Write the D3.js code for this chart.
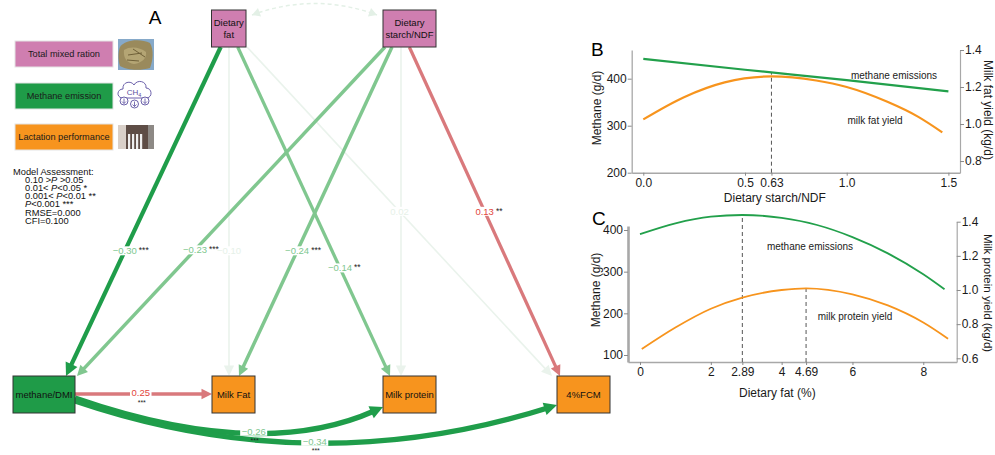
<!DOCTYPE html>
<html>
<head>
<meta charset="utf-8">
<script src="https://cdn.jsdelivr.net/npm/d3@7"></script>
<style>
  body { margin: 0; background: #fff; }
  svg { display: block; font-family: "Liberation Sans", Arial, sans-serif; }
</style>
</head>
<body>
<svg id="chart" width="995" height="455"></svg>
<script>
// ---------- panel A : path model ----------
var nodeIds    = ["fat", "ndf", "ch4", "mfat", "mprot", "fcm"];
var nodeLabels = [["Dietary", "fat"], ["Dietary", "starch/NDF"], ["methane/DMI"], ["Milk Fat"], ["Milk protein"], ["4%FCM"]];
var nodeGroups = ["ration", "ration", "methane", "lactation", "lactation", "lactation"];

var pathFrom  = ["fat", "fat", "fat", "fat", "ndf", "ndf", "ndf", "ndf", "ch4", "ch4", "ch4"];
var pathTo    = ["ch4", "mfat", "mprot", "fcm", "ch4", "mfat", "mprot", "fcm", "mfat", "mprot", "fcm"];
var pathCoef  = [-0.30, -0.10, -0.14, 0.02, -0.23, -0.24, null, 0.13, 0.25, -0.26, -0.34];
var pathStars = ["***", "", "**", "", "***", "***", "", "**", "***", "***", "***"];

var legendLabels = ["Total mixed ration", "Methane emission", "Lactation performance"];
var legendGroups = ["ration", "methane", "lactation"];

var assessLines = ["Model Assessment:", "0.10 >P >0.05", "0.01< P<0.05 *", "0.001< P<0.01 **", "P<0.001 ***", "RMSE=0.000", "CFI=0.100"];

// ---------- panel B : starch/NDF ----------
var starchLevels    = [0, 0.5, 1.0, 1.5];
var starchMethane   = [442, 419, 397, 373];
var starchFatLevels = [0, 0.2, 0.4, 0.63, 0.85, 1.0, 1.2, 1.35, 1.47];
var starchFatYield  = [1.025, 1.145, 1.225, 1.257, 1.235, 1.2, 1.12, 1.04, 0.955];
var starchOptimum   = 0.63;
var starchTicks     = [0, 0.5, 0.63, 1.0, 1.5];
var starchTickText  = ["0.0", "0.5", "0.63", "1.0", "1.5"];

// ---------- panel C : dietary fat ----------
var fatLevels      = [0, 1, 2, 2.89, 4, 5, 6, 7, 8, 8.6];
var fatMethane     = [390, 416, 432, 436, 429, 412, 383, 344, 294, 258];
var fatProtLevels  = [0.05, 1, 2, 2.89, 4, 4.69, 6, 7, 8, 8.7];
var fatProtYield   = [0.654, 0.78, 0.89, 0.955, 1.0, 1.01, 0.975, 0.91, 0.81, 0.715];
var fatOptMethane  = 2.89;
var fatOptProtein  = 4.69;
var fatTicks       = [0, 2, 2.89, 4, 4.69, 6, 8];
var fatTickText    = ["0", "2", "2.89", "4", "4.69", "6", "8"];

var FONT = "'Liberation Sans', Arial, sans-serif";
var groupFill = { ration: "#cf7eb0", methane: "#1f9b48", lactation: "#f7941e" };
var GREEN = "#22a04b", ORANGE = "#f7941d";

var svg = d3.select("#chart");

// node boxes [x, y, w, h]
var nodeBox = {
  fat:   [211.5, 10, 34.5, 37],
  ndf:   [383, 10, 53, 37],
  ch4:   [13, 376, 62, 37],
  mfat:  [212, 376, 43, 37],
  mprot: [383, 376, 53, 37],
  fcm:   [557, 376, 53, 37]
};
// where each path leaves / enters its boxes, and where its label sits (fraction)
var edgeLayout = [
  { sx: 220.7, tx: 66,  t: 0.62 },
  { sx: 229,   tx: 229, t: 0.62 },
  { sx: 237.7, tx: 390, t: 0.672 },
  { sx: 247,   tx: 552, t: 0.5 },
  { sx: 385,   tx: 77,  t: 0.617 },
  { sx: 392,   tx: 239, t: 0.62 },
  { sx: 401,   tx: 401, t: 0.5 },
  { sx: 409.3, tx: 560, t: 0.5 },
  { side: true, sy: 18, ty: 18, t: 0.48 },
  { curve: true, sy: 22, ty: 31, cx: 260, cy: 462, t: 0.53 },
  { curve: true, sy: 25, ty: 29, cx: 313.5, cy: 482, t: 0.5 }
];

function isFaint(i) { return pathCoef[i] === null || pathStars[i] === ""; }
function edgeColor(i) {
  var c = pathCoef[i];
  if (isFaint(i)) return "#eaf3ec";
  if (c > 0) return "#d9797c";
  return Math.abs(c) >= 0.26 ? "#1f9d4a" : "#80c78f";
}
function labelColor(i) {
  if (isFaint(i)) return "#e6f1e8";
  return pathCoef[i] > 0 ? "#e2453d" : "#80c78f";
}
function edgeWidth(i) {
  var c = Math.abs(pathCoef[i] || 0);
  if (isFaint(i)) return 1.6;
  if (edgeLayout[i].curve) return 5.3;
  if (c >= 0.26) return 4.2;
  return 3 + c * 2;
}

function arrowPts(tip, from, L, W) {
  var dx = tip[0] - from[0], dy = tip[1] - from[1];
  var len = Math.sqrt(dx * dx + dy * dy), ux = dx / len, uy = dy / len;
  var bx = tip[0] - ux * L, by = tip[1] - uy * L;
  return { poly: [tip, [bx - uy * W, by + ux * W], [bx + uy * W, by - ux * W]], base: [tip[0] - ux * L * 0.7, tip[1] - uy * L * 0.7] };
}

var gEdge = svg.append("g"), gLab = svg.append("g"), gNode = svg.append("g");

// faint dashed covariance arc between the two diet nodes
(function () {
  var p0 = [252, 15], p2 = [377, 15], c = [314.5, -8];
  var col = "#e3f0e6";
  gEdge.append("path")
    .attr("d", "M" + p0 + "Q" + c + " " + p2)
    .attr("fill", "none").attr("stroke", col).attr("stroke-width", 1.5).attr("stroke-dasharray", "4,3");
  [[p0, c], [p2, c]].forEach(function (pr) {
    var a = arrowPts(pr[0], pr[1], 8, 4.5);
    gEdge.append("polygon").attr("points", a.poly.join(" ")).attr("fill", col);
  });
})();

var order = d3.range(pathFrom.length).sort(function (a, b) { return isFaint(b) - isFaint(a); });
order.forEach(function (i) {
  var s = nodeBox[pathFrom[i]], e = nodeBox[pathTo[i]], lay = edgeLayout[i];
  var col = edgeColor(i), w = edgeWidth(i);
  var L = w >= 4 ? 13 : 10.5, W = w >= 4 ? 6.5 : 5.2;
  var p0, p2, ctrl, lp;
  if (lay.curve || lay.side) {
    p0 = [s[0] + s[2], s[1] + lay.sy];
    p2 = [e[0], e[1] + lay.ty];
  } else {
    p0 = [lay.sx, s[1] + s[3]];
    p2 = [lay.tx, e[1]];
  }
  if (lay.curve) {
    ctrl = [lay.cx, lay.cy];
    var a = arrowPts(p2, ctrl, L, W);
    gEdge.append("path").attr("d", "M" + p0 + "Q" + ctrl + " " + a.base)
      .attr("fill", "none").attr("stroke", col).attr("stroke-width", w);
    gEdge.append("polygon").attr("points", a.poly.join(" ")).attr("fill", col);
    var t = lay.t, u = 1 - t;
    lp = [u * u * p0[0] + 2 * u * t * ctrl[0] + t * t * p2[0], u * u * p0[1] + 2 * u * t * ctrl[1] + t * t * p2[1]];
  } else {
    var a2 = arrowPts(p2, p0, L, W);
    gEdge.append("line").attr("x1", p0[0]).attr("y1", p0[1]).attr("x2", a2.base[0]).attr("y2", a2.base[1])
      .attr("stroke", col).attr("stroke-width", w);
    gEdge.append("polygon").attr("points", a2.poly.join(" ")).attr("fill", col);
    lp = [p0[0] + (p2[0] - p0[0]) * lay.t, p0[1] + (p2[1] - p0[1]) * lay.t];
  }
  if (pathCoef[i] === null) return;
  var below = lay.curve || lay.side;
  var txt = gLab.append("text").attr("x", lp[0]).attr("y", lp[1] - (below ? 1 : 0)).attr("dy", "0.35em")
    .attr("text-anchor", "middle").attr("font-size", 9.5).attr("fill", labelColor(i))
    .text(d3.format(".2f")(pathCoef[i]));
  var bb = txt.node().getBBox();
  gLab.insert("rect", function () { return txt.node(); })
    .attr("x", bb.x - 1.5).attr("y", bb.y + 1).attr("width", bb.width + 3).attr("height", bb.height - 2)
    .attr("fill", "#fff");
  if (pathStars[i]) {
    if (below) {
      gLab.append("text").attr("x", lp[0] + 1).attr("y", lp[1] + 10.5)
        .attr("text-anchor", "middle").attr("font-size", 7).attr("fill", "#222").text(pathStars[i]);
    } else {
      gLab.append("text").attr("x", bb.x + bb.width + 2).attr("y", lp[1] + 2)
        .attr("font-size", 8.5).attr("fill", "#222").text(pathStars[i]);
    }
  }
});

nodeIds.forEach(function (id, i) {
  var b = nodeBox[id];
  gNode.append("rect").attr("x", b[0]).attr("y", b[1]).attr("width", b[2]).attr("height", b[3])
    .attr("fill", groupFill[nodeGroups[i]]).attr("stroke", "#333").attr("stroke-width", 1);
  var lines = nodeLabels[i], cy = b[1] + b[3] / 2;
  lines.forEach(function (ln, k) {
    gNode.append("text").attr("x", b[0] + b[2] / 2).attr("y", cy + (k - (lines.length - 1) / 2) * 12)
      .attr("dy", "0.35em").attr("text-anchor", "middle").attr("font-size", 9.5).attr("fill", "#111").text(ln);
  });
});

// panel letter
svg.append("text").attr("x", 155).attr("y", 24).attr("text-anchor", "middle").attr("font-size", 19).text("A");

// legend
var legTop = [41, 83, 124];
legendLabels.forEach(function (lab, i) {
  svg.append("rect").attr("x", 15).attr("y", legTop[i]).attr("width", 98).attr("height", 26)
    .attr("fill", groupFill[legendGroups[i]]).attr("stroke", "#e4e4e4");
  svg.append("text").attr("x", 64).attr("y", legTop[i] + 13).attr("dy", "0.35em")
    .attr("text-anchor", "middle").attr("font-size", 9.2).attr("fill", "#1a1a1a").text(lab);
});

// icons next to the legend
(function () {
  var g = svg.append("g");
  // feed photo
  g.append("rect").attr("x", 118).attr("y", 39).attr("width", 36).attr("height", 31).attr("fill", "#86a9c9");
  g.append("path").attr("d", "M120,47 C124,40 140,38 150,43 C154,50 153,60 150,68 C140,71 126,70 120,66 C118,60 118,52 120,47 Z")
    .attr("fill", "#9a8a5c");
  g.append("path").attr("d", "M124,50 C130,46 140,47 146,52 C147,58 142,63 134,64 C127,63 123,58 124,50 Z")
    .attr("fill", "#b4a574");
  g.append("path").attr("d", "M128,55 L142,53 M127,60 L139,61 M133,49 L145,57").attr("stroke", "#6f6038").attr("stroke-width", 1);
  // methane cloud
  var purple = "#5b4fa0";
  g.append("path").attr("d", "M122,98 C116,97 117,89 123,89 C122,82 131,80 134,85 C137,79 147,81 146,88 C152,88 153,97 147,98 Z")
    .attr("fill", "none").attr("stroke", purple).attr("stroke-width", 0.9);
  var ct = g.append("text").attr("x", 134).attr("y", 95).attr("text-anchor", "middle").attr("font-size", 8).attr("fill", purple);
  ct.append("tspan").text("CH");
  ct.append("tspan").attr("font-size", 5.5).attr("dy", 1.5).text("4");
  [[124, 101], [134.5, 104], [145, 101]].forEach(function (p) {
    g.append("circle").attr("cx", p[0]).attr("cy", p[1]).attr("r", 4).attr("fill", "#fff").attr("stroke", purple).attr("stroke-width", 0.9);
    g.append("path").attr("d", "M" + p[0] + "," + (p[1] - 2.5) + "V" + (p[1] + 2.5) + "M" + (p[0] - 2) + "," + (p[1] + 0.5) + "L" + p[0] + "," + (p[1] + 2.5) + "L" + (p[0] + 2) + "," + (p[1] + 0.5))
      .attr("fill", "none").attr("stroke", purple).attr("stroke-width", 0.8);
  });
  // milking photo
  g.append("rect").attr("x", 118).attr("y", 125).attr("width", 36).attr("height", 24).attr("fill", "#d9d0c9");
  g.append("rect").attr("x", 126).attr("y", 125).attr("width", 22).attr("height", 24).attr("fill", "#5e4d46");
  [128, 132, 136, 140].forEach(function (x) {
    g.append("rect").attr("x", x).attr("y", 134).attr("width", 2.2).attr("height", 15).attr("fill", "#efefef");
  });
  g.append("rect").attr("x", 148).attr("y", 125).attr("width", 6).attr("height", 24).attr("fill", "#8d8985");
})();

// model assessment text
var assess = svg.append("text").attr("font-size", 9.3).attr("fill", "#111");
assessLines.forEach(function (ln, i) {
  var t = assess.append("tspan").attr("x", i === 0 ? 13 : 25).attr("y", 175 + i * 8.1);
  var parts = (i >= 1 && i <= 4) ? ln.split("P") : [ln];
  parts.forEach(function (p, k) {
    if (k > 0) t.append("tspan").attr("font-style", "italic").text("P");
    t.append("tspan").text(p);
  });
});

// ---------- line panels ----------
function styleAxis(g, domWidth) {
  g.attr("font-family", FONT).attr("font-size", 12);
  g.select(".domain").attr("stroke", "#a8a8a8").attr("stroke-width", domWidth);
  g.selectAll(".tick line").attr("stroke", "#8a8a8a");
  g.selectAll(".tick text").attr("fill", "#1a1a1a");
}

function linePanel(cfg) {
  var g = svg.append("g");
  var x = d3.scaleLinear().domain(cfg.xDomain).range([cfg.left, cfg.right]);
  var yl = d3.scaleLinear().domain(cfg.lDomain).range([cfg.bottom, cfg.top]);
  var yr = d3.scaleLinear().domain(cfg.rDomain).range([cfg.bottom, cfg.rTop]);

  var ax = g.append("g").attr("transform", "translate(0," + cfg.bottom + ")")
    .call(d3.axisBottom(x).tickValues(cfg.xTicks).tickFormat(function (d, i) { return cfg.xTickText[i]; })
      .tickSize(3).tickSizeOuter(0).tickPadding(cfg.xPad));
  styleAxis(ax, 1.5);
  var al = g.append("g").attr("transform", "translate(" + cfg.left + ",0)")
    .call(d3.axisLeft(yl).tickValues(cfg.lTicks).tickSize(4).tickSizeOuter(0).tickPadding(1));
  styleAxis(al, cfg.leftWidth);
  var ar = g.append("g").attr("transform", "translate(" + cfg.right + ",0)")
    .call(d3.axisRight(yr).tickValues(cfg.rTicks).tickFormat(d3.format(".1f")).tickSize(4).tickSizeOuter(0).tickPadding(1));
  styleAxis(ar, 1.2);

  // optimum markers
  cfg.dashes.forEach(function (d) {
    g.append("line").attr("x1", x(d.x)).attr("x2", x(d.x)).attr("y1", cfg.bottom).attr("y2", d.y)
      .attr("stroke", "#555").attr("stroke-width", 1).attr("stroke-dasharray", "4,3");
  });

  var lineL = d3.line().curve(d3.curveMonotoneX).x(function (d) { return x(d[0]); }).y(function (d) { return yl(d[1]); });
  var lineR = d3.line().curve(d3.curveMonotoneX).x(function (d) { return x(d[0]); }).y(function (d) { return yr(d[1]); });
  g.append("path").attr("d", lineL(d3.zip(cfg.mX, cfg.mY))).attr("fill", "none").attr("stroke", GREEN).attr("stroke-width", cfg.lw);
  g.append("path").attr("d", lineR(d3.zip(cfg.yX, cfg.yY))).attr("fill", "none").attr("stroke", ORANGE).attr("stroke-width", cfg.lw);

  cfg.notes.forEach(function (n) {
    g.append("text").attr("x", n[0]).attr("y", n[1]).attr("text-anchor", "middle").attr("font-size", 10).attr("fill", "#1a1a1a").text(n[2]);
  });
  g.append("text").attr("x", cfg.letter[0]).attr("y", cfg.letter[1]).attr("font-size", 19).text(cfg.letter[2]);
  g.append("text").attr("x", (cfg.left + cfg.right) / 2 + cfg.xTitle[0]).attr("y", cfg.xTitle[1])
    .attr("text-anchor", "middle").attr("font-size", 12).attr("fill", "#1a1a1a").text(cfg.xTitle[2]);
  g.append("text").attr("transform", "translate(" + cfg.lTitle[0] + "," + cfg.lTitle[1] + ") rotate(-90)")
    .attr("text-anchor", "middle").attr("dy", "0.35em").attr("font-size", 12).attr("fill", "#1a1a1a").text(cfg.lTitle[2]);
  g.append("text").attr("transform", "translate(" + cfg.rTitle[0] + "," + cfg.rTitle[1] + ") rotate(90)")
    .attr("text-anchor", "middle").attr("dy", "0.35em").attr("font-size", cfg.rTitle[3]).attr("fill", "#1a1a1a").text(cfg.rTitle[2]);
  return { x: x, yl: yl, yr: yr };
}

var starchMethaneAt = d3.scaleLinear().domain(starchLevels).range(starchMethane);
var fatMethaneAt = d3.scaleLinear().domain(fatLevels).range(fatMethane);
var fatProtAt = d3.scaleLinear().domain(fatProtLevels).range(fatProtYield);

var bY = d3.scaleLinear().domain([200, 461]).range([172.7, 50]);
linePanel({
  left: 631.7, right: 960, top: 50, rTop: 50, bottom: 172.7,
  xDomain: [-0.057, 1.557], lDomain: [200, 461], rDomain: [0.737, 1.4],
  xTicks: starchTicks, xTickText: starchTickText, xPad: 3,
  lTicks: [200, 300, 400], rTicks: [0.8, 1.0, 1.2, 1.4], leftWidth: 1.3,
  mX: starchLevels, mY: starchMethane, yX: starchFatLevels, yY: starchFatYield, lw: 2.2,
  dashes: [{ x: starchOptimum, y: bY(starchMethaneAt(starchOptimum)) }],
  notes: [[894, 79, "methane emissions"], [875, 124, "milk fat yield"]],
  letter: [591, 56, "B"],
  xTitle: [-21, 202, "Dietary starch/NDF"],
  lTitle: [597, 108, "Methane (g/d)"],
  rTitle: [988.5, 110, "Milk fat yield (kg/d)", 12]
});

var cL = d3.scaleLinear().domain([83.2, 409.6]).range([362, 226]);
var cR = d3.scaleLinear().domain([0.5783, 1.4]).range([362, 221.7]);
linePanel({
  left: 628, right: 956.7, top: 226, rTop: 221.7, bottom: 362,
  xDomain: [-0.339, 8.944], lDomain: [83.2, 409.6], rDomain: [0.5783, 1.4],
  xTicks: fatTicks, xTickText: fatTickText, xPad: 2,
  lTicks: [100, 200, 300, 400], rTicks: [0.6, 0.8, 1.0, 1.2, 1.4], leftWidth: 2.6,
  mX: fatLevels, mY: fatMethane, yX: fatProtLevels, yY: fatProtYield, lw: 1.8,
  dashes: [{ x: fatOptMethane, y: cL(fatMethaneAt(fatOptMethane)) }, { x: fatOptProtein, y: cR(fatProtAt(fatOptProtein)) }],
  notes: [[810, 249.5, "methane emissions"], [855, 319.5, "milk protein yield"]],
  letter: [592, 225, "C"],
  xTitle: [-15, 397, "Dietary fat (%)"],
  lTitle: [596, 290, "Methane (g/d)"],
  rTitle: [988, 293, "Milk protein yield (kg/d)", 11.5]
});
</script>
</body>
</html>
